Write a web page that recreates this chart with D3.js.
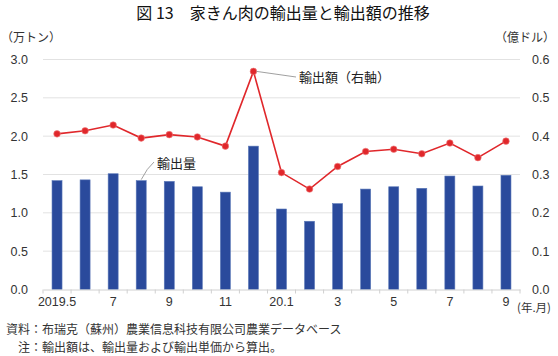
<!DOCTYPE html>
<html><head><meta charset="utf-8">
<script src="https://cdn.jsdelivr.net/npm/d3@7"></script>
<style>
body{margin:0;background:#fff;}
svg{display:block;}
text{font-family:"Liberation Sans",Arial,sans-serif;fill:#333;}
.jp{font-family:"Noto Sans CJK JP","Noto Sans",sans-serif;}
</style></head>
<body>
<svg id="c" width="558" height="356"></svg>
<script>
const months = ["2019.5","2019.6","2019.7","2019.8","2019.9","2019.10","2019.11","2019.12","2020.1","2020.2","2020.3","2020.4","2020.5","2020.6","2020.7","2020.8","2020.9"];
const tickLabels = ["2019.5","","7","","9","","11","","20.1","","3","","5","","7","","9"];
const volume = [1.42,1.43,1.51,1.42,1.41,1.34,1.27,1.87,1.05,0.89,1.12,1.31,1.34,1.32,1.48,1.35,1.49];
const value = [0.406,0.414,0.429,0.395,0.404,0.398,0.374,0.569,0.305,0.262,0.321,0.360,0.366,0.354,0.382,0.344,0.387];
const leftTicks = [0,0.5,1.0,1.5,2.0,2.5,3.0];
const rightTicks = [0,0.1,0.2,0.3,0.4,0.5,0.6];

const svg = d3.select("#c");
const L = 43, R = 520, T = 59.5, B = 289.5;
const x = d3.scaleBand().domain(months).range([L,R]).paddingInner(0).paddingOuter(0);
const yL = d3.scaleLinear().domain([0,3]).range([B,T]);
const yR = d3.scaleLinear().domain([0,0.6]).range([B,T]);

// title
svg.append("text").attr("class","jp").attr("x",283).attr("y",19).attr("text-anchor","middle")
  .attr("font-size",16).attr("font-weight",400).style("fill","#111").text("図 13　家きん肉の輸出量と輸出額の推移");

// unit labels
svg.append("text").attr("class","jp").attr("x",1).attr("y",42).attr("font-size",12).text("（万トン）");
svg.append("text").attr("class","jp").attr("x",555).attr("y",42).attr("text-anchor","end").attr("font-size",12).text("（億ドル）");

// grid
svg.append("g").selectAll("line").data(leftTicks.slice(1)).join("line")
  .attr("x1",L).attr("x2",R).attr("y1",d=>yL(d)).attr("y2",d=>yL(d))
  .attr("stroke","#e2e2e2").attr("stroke-width",1);

// left axis
const gl = svg.append("g").attr("transform",`translate(${L},0)`)
  .call(d3.axisLeft(yL).tickValues(leftTicks).tickFormat(d3.format(".1f")).tickSize(0).tickPadding(15));
gl.select(".domain").remove();
gl.selectAll("text").attr("font-size",12.5).style("font-family","Liberation Sans, Arial").style("fill","#333");

// right axis
const gr = svg.append("g").attr("transform",`translate(${R},0)`)
  .call(d3.axisRight(yR).tickValues(rightTicks).tickFormat(d3.format(".1f")).tickSize(0).tickPadding(12));
gr.select(".domain").remove();
gr.selectAll("text").attr("font-size",12.5).style("font-family","Liberation Sans, Arial").style("fill","#333");

// bars
const bw = 10;
svg.append("g").selectAll("rect").data(volume).join("rect")
  .attr("x",(d,i)=>x(months[i])+x.bandwidth()/2-bw/2)
  .attr("width",bw)
  .attr("y",d=>yL(d))
  .attr("height",d=>B-yL(d))
  .attr("fill","#2a4a9c").attr("stroke","#5a78b8").attr("stroke-width",0.6);

// bottom axis
const gb = svg.append("g").attr("transform",`translate(0,${B})`)
  .call(d3.axisBottom(x).tickSize(0).tickPadding(8).tickFormat((d,i)=>tickLabels[i]));
gb.select(".domain").attr("stroke","#d0d0d0");
gb.selectAll("text").attr("font-size",12.5).style("font-family","Liberation Sans, Arial").style("fill","#333");
// boundary tick marks
const bounds = months.map(m=>x(m)).concat([R]);
svg.append("g").selectAll("line").data(bounds).join("line")
  .attr("x1",d=>d).attr("x2",d=>d).attr("y1",B).attr("y2",B+4)
  .attr("stroke","#d0d0d0");
svg.append("text").attr("class","jp").attr("x",517).attr("y",312)
  .attr("font-size",11.5).text("(年.月)");

// line
const line = d3.line().x((d,i)=>x(months[i])+x.bandwidth()/2).y(d=>yR(d));
svg.append("path").datum(value).attr("d",line).attr("fill","none")
  .attr("stroke","#e0272b").attr("stroke-width",1.6);
svg.append("g").selectAll("circle").data(value).join("circle")
  .attr("cx",(d,i)=>x(months[i])+x.bandwidth()/2).attr("cy",d=>yR(d)).attr("r",3.3)
  .attr("fill","#e0272b").attr("stroke","#f08080").attr("stroke-width",0.6);

// annotations
const pk = 7;
svg.append("line").attr("x1",x(months[pk])+x.bandwidth()/2+3).attr("y1",yR(value[pk]))
  .attr("x2",296).attr("y2",77).attr("stroke","#888").attr("stroke-width",0.8);
svg.append("text").attr("class","jp").attr("x",299).attr("y",82).attr("font-size",13).style("fill","#222").text("輸出額（右軸）");
const bk = 3;
svg.append("path").attr("d",`M${x(months[bk])+x.bandwidth()/2},${yL(volume[bk])-1} Q147,168 154,162`)
  .attr("fill","none").attr("stroke","#888").attr("stroke-width",0.8);
svg.append("text").attr("class","jp").attr("x",157).attr("y",168).attr("font-size",13).style("fill","#222").text("輸出量");

// footnotes
svg.append("text").attr("class","jp").attr("x",6).attr("y",334).attr("font-size",12).text("資料：布瑞克（蘇州）農業信息科技有限公司農業データベース");
svg.append("text").attr("class","jp").attr("x",18).attr("y",352).attr("font-size",12).text("注：輸出額は、輸出量および輸出単価から算出。");
</script>
</body></html>
